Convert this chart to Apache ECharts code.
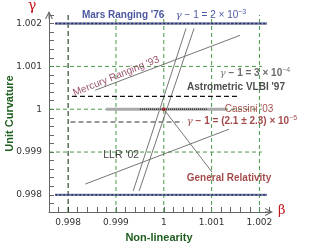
<!DOCTYPE html>
<html><head><meta charset="utf-8">
<script src="https://cdn.jsdelivr.net/npm/echarts@6/dist/echarts.min.js"></script>
<style>html,body{margin:0;padding:0;background:#fff}#c{width:324px;height:252px}</style>
</head><body><div id="c"></div>
<script>
// ---- data ----
const xRange = [0.9976, 1.0022];
const yRange = [0.9976, 1.0022];
const tickStep = 0.0002;
const xTickValues = [0.998, 0.999, 1, 1.001, 1.002];
const xTickLabels = ['0.998', '0.999', '1', '1.001', '1.002'];
const yTickValues = [0.998, 0.999, 1, 1.001, 1.002];
const yTickLabels = ['0.998', '0.999', '1', '1.001', '1.002'];
const vGridValues = [0.999, 1, 1.001, 1.002];
const vGridDark = [0.998];
const hGridValues = [0.999, 1, 1.001];
const hGridEnd = 1.00205;
const marsGammaBounds = [1.002, 0.998];
const marsXSpan = [0.99773, 1.00216];
const mercuryLine = [[0.998567, 1.000443], [1.001594, 1.001725]];
const llrLine = [[0.998358, 0.998252], [1.001364, 0.999534]];
const nordtvedtA = [[0.99936, 0.998089], [1.000466, 1.001888]];
const nordtvedtB = [[0.999485, 0.998089], [1.000633, 1.001888]];
const grPointer = [[1, 1], [1.001009, 0.998531]];
const vlbiUpper = [[0.99808, 1.0003], [1.00155, 1.0003]];
const vlbiLower = [[0.99805, 0.9997], [1.0004, 0.9997]];
const cassiniBand = [[0.9988, 1], [1.0013, 1]];
const cassiniDots = [[0.9995, 1], [1.0009, 1]];
const grPoint = [[1, 1]];
const annotations = [
  {key: 'mars',      text: "Mars Ranging '76",                 at: [0.99915, 1.00219]},
  {key: 'marsEq',    text: '{g|γ} − 1 = 2 × 10{s|−3}',          at: [1.000988, 1.00219]},
  {key: 'mercury',   text: "Mercury Ranging '93",              at: [0.999005, 1.000769]},
  {key: 'vlbiEq',    text: '{g|γ} − 1 = 3 × 10{s|−4}',          at: [1.001907, 1.000839]},
  {key: 'vlbi',      text: "Astrometric VLBI '97",             at: [1.00151, 1.000513]},
  {key: 'cassini',   text: "Cassini '03",                      at: [1.001782, 1.0]},
  {key: 'cassiniEq', text: '{g|γ} − 1 = (2.1 ± 2.3) × 10{s|−5}', at: [1.001635, 0.99972]},
  {key: 'llr',       text: "LLR '02",                           at: [0.999109, 0.998928]},
  {key: 'gr',        text: 'General Relativity',               at: [1.001364, 0.998392]}
];

// ---- styles ----
const SANS = 'Liberation Sans';
function fRich(color) {
  return {
    g: {color: color, fontFamily: 'DejaVu Serif', fontStyle: 'italic', fontWeight: 'normal', fontSize: 10, lineHeight: 13},
    s: {color: color, fontFamily: SANS, fontWeight: 'normal', fontSize: 7, lineHeight: 8, verticalAlign: 'top'}
  };
}
const labelStyles = {
  mars:      {color: '#1f2d8a', fontFamily: SANS, fontWeight: 'bold', fontSize: 10},
  marsEq:    {color: '#1f2d8a', fontFamily: SANS, fontSize: 10, lineHeight: 13, rich: fRich('#1f2d8a')},
  mercury:   {color: '#7a1f40', fontFamily: SANS, fontSize: 10, rotate: 22},
  vlbiEq:    {color: '#444', fontFamily: SANS, fontWeight: 'bold', fontSize: 10, lineHeight: 13, rich: fRich('#555')},
  vlbi:      {color: '#222', fontFamily: SANS, fontWeight: 'bold', fontSize: 10},
  cassini:   {color: '#8b1a1a', fontFamily: SANS, fontSize: 10},
  cassiniEq: {color: '#8b1a1a', fontFamily: SANS, fontWeight: 'bold', fontSize: 10, lineHeight: 13, rich: fRich('#8b1a1a')},
  llr:       {color: '#111', fontFamily: SANS, fontSize: 10.5},
  gr:        {color: '#8b1a1a', fontFamily: SANS, fontWeight: 'bold', fontSize: 10}
};

function seg(points, style, z) {
  return {type: 'line', data: points, symbol: 'none', silent: true, animation: false,
          z: z || 2, lineStyle: style};
}
const gridGreen = {color: '#4a9a4a', width: 1, type: [4, 3]};
const series = [];
vGridValues.forEach(v => series.push(seg([[v, yRange[0]], [v, yRange[1]]], gridGreen, 1)));
vGridDark.forEach(v => series.push(seg([[v, yRange[0]], [v, yRange[1]]], {color: '#1d3a1d', width: 1.1, type: [5, 3]}, 1)));
hGridValues.forEach(v => series.push(seg([[xRange[0], v], [hGridEnd, v]], gridGreen, 1)));
marsGammaBounds.forEach(g => {
  series.push(seg([[marsXSpan[0], g], [marsXSpan[1], g]], {color: '#7d8398', width: 2.4}, 3));
  series.push(seg([[marsXSpan[0], g], [marsXSpan[1], g]], {color: '#1c2a80', width: 1.4, type: [2, 2]}, 4));
});
const thin = {color: '#666', width: 0.9};
[mercuryLine, llrLine, nordtvedtA, nordtvedtB, grPointer].forEach(l => series.push(seg(l, thin, 3)));
series.push(seg(vlbiUpper, {color: '#111', width: 1.2, type: [5, 3]}, 3));
series.push(seg(vlbiLower, {color: '#777', width: 1.4, type: [5, 3]}, 3));
series.push(seg(cassiniBand, {color: '#aaa', width: 3}, 4));
series.push(seg(cassiniDots, {color: '#333', width: 1.6, type: [1, 1]}, 5));
series.push({type: 'scatter', data: grPoint, symbolSize: 4, itemStyle: {color: '#9b1c1c'}, z: 6, silent: true, animation: false});
series.push({
  type: 'scatter', symbolSize: 1, itemStyle: {color: 'rgba(0,0,0,0)'}, z: 7, silent: true, animation: false,
  data: annotations.map(a => ({
    value: a.at,
    label: Object.assign({show: true, position: 'inside', formatter: a.text}, labelStyles[a.key])
  }))
});

function fmt(values, labels) {
  return function (v) {
    const i = values.findIndex(t => Math.abs(t - v) < 1e-7);
    return i >= 0 ? labels[i] : '';
  };
}
const arrowPath = 'path://M5 0 L10 10 L8.6 10 L5 2.8 L1.4 10 L0 10 Z M4.45 1 L5.55 1 L5.55 10 L4.45 10 Z';
const axisCommon = {
  type: 'value', interval: tickStep,
  axisLine: {show: true, symbol: ['none', arrowPath], symbolSize: [8, 9], lineStyle: {color: '#666', width: 1}},
  axisTick: {show: true, inside: true, length: 5, lineStyle: {color: '#666'}},
  splitLine: {show: false},
  nameMoveOverlap: false,
  nameTextStyle: {color: '#1e5e1e', fontFamily: SANS, fontWeight: 'bold', fontSize: 11}
};

const chart = echarts.init(document.getElementById('c'), null, {renderer: 'canvas'});
chart.setOption({
  animation: false,
  grid: {left: 49, top: 15, width: 220, height: 197, containLabel: false, outerBoundsMode: 'none'},
  xAxis: Object.assign({}, axisCommon, {
    min: xRange[0], max: xRange[1],
    name: 'Non-linearity', nameLocation: 'middle', nameGap: 20,
    axisLabel: {formatter: fmt(xTickValues, xTickLabels), margin: 6, color: '#333', fontFamily: 'DejaVu Sans', fontSize: 9}
  }),
  yAxis: Object.assign({}, axisCommon, {
    min: yRange[0], max: yRange[1],
    name: 'Unit Curvature', nameLocation: 'middle', nameGap: 34,
    axisLabel: {formatter: fmt(yTickValues, yTickLabels), margin: 7, color: '#333', fontFamily: 'DejaVu Sans', fontSize: 9}
  }),
  graphic: [
    {type: 'text', left: 28, top: -1, style: {text: 'γ', fill: '#c0161b', font: '14px "DejaVu Serif"'}},
    {type: 'text', left: 278, top: 204, style: {text: 'β', fill: '#c0161b', font: '13px "DejaVu Serif"'}}
  ],
  series: series
});
</script></body></html>
